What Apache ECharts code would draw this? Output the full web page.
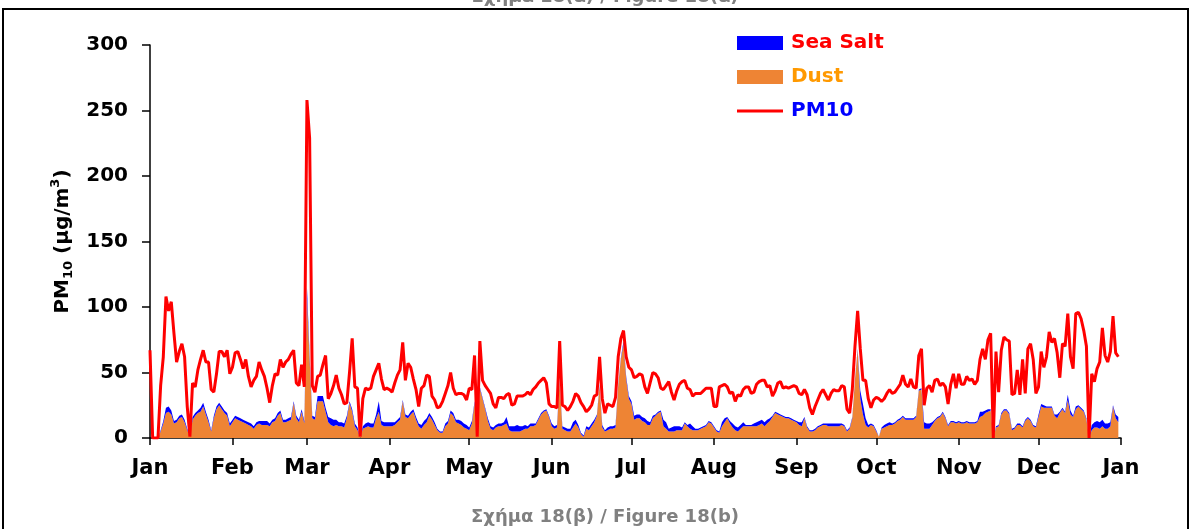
<!DOCTYPE html>
<html>
<head>
<meta charset="utf-8">
<title>PM10 - Sea Salt / Dust</title>
<script src="https://cdn.jsdelivr.net/npm/echarts@6.0.0/dist/echarts.min.js"></script>
<style>
  html, body { margin: 0; padding: 0; background: #fff; }
  #pmWrapper { width: 1190px; height: 529px; }
</style>
</head>
<body>
<div id="pmWrapper"></div>
<script>
var months = ['Jan', 'Feb', 'Mar', 'Apr', 'May', 'Jun', 'Jul', 'Aug', 'Sep', 'Oct', 'Nov', 'Dec'];
var monthDays = [31, 28, 31, 30, 31, 30, 31, 31, 30, 31, 30, 31];

// daily PM10 (one row per month)
var pm10 = [
  67, 0, 0, 0, 40, 62, 108, 97, 104, 80, 58, 66, 72, 62, 24, 1, 42, 39, 52, 60, 67, 58, 58, 37, 35, 49, 66, 66, 62, 67, 49,
  54, 65, 66, 60, 53, 60, 47, 39, 44, 47, 58, 52, 47, 38, 27, 40, 49, 48, 60, 54, 58, 60, 64, 67, 42, 40, 56, 39,
  258, 229, 40, 35, 47, 48, 56, 63, 30, 34, 40, 48, 38, 33, 26, 27, 50, 76, 39, 38, 1, 30, 38, 37, 38, 47, 52, 57, 45, 37, 38,
  37, 35, 42, 48, 52, 73, 44, 57, 54, 45, 37, 24, 38, 40, 48, 47, 32, 29, 23, 24, 28, 34, 40, 50, 38, 33, 34, 34, 33, 29,
  38, 37, 63, 1, 74, 44, 40, 37, 34, 26, 23, 31, 31, 30, 33, 34, 25, 26, 32, 32, 32, 33, 35, 33, 37, 39, 42, 44, 46, 42, 26,
  24, 24, 23, 74, 25, 24, 21, 24, 28, 34, 32, 27, 24, 20, 22, 25, 32, 33, 62, 30, 19, 26, 25, 24, 31, 62, 76, 82, 62, 54,
  52, 46, 47, 49, 48, 39, 34, 42, 50, 49, 46, 38, 37, 40, 43, 35, 29, 36, 41, 43, 44, 38, 37, 32, 34, 34, 34, 36, 38, 38, 38,
  24, 24, 39, 40, 41, 39, 34, 35, 28, 33, 32, 37, 39, 39, 34, 35, 41, 43, 44, 44, 39, 40, 32, 36, 42, 43, 38, 39, 38, 39, 40,
  39, 34, 33, 37, 33, 23, 18, 24, 29, 34, 37, 33, 29, 34, 37, 36, 36, 40, 39, 22, 19, 37, 70, 97, 68, 44, 44, 30, 23, 29,
  31, 30, 28, 30, 34, 37, 34, 35, 38, 41, 48, 41, 39, 45, 39, 38, 63, 68, 25, 38, 40, 35, 44, 45, 40, 42, 39, 26, 41, 49, 38,
  49, 41, 41, 47, 44, 45, 41, 44, 60, 68, 60, 75, 80, 0, 66, 35, 67, 77, 75, 74, 33, 34, 52, 33, 60, 34, 68, 72, 60, 34,
  39, 66, 54, 62, 81, 73, 76, 65, 46, 72, 70, 95, 62, 53, 95, 96, 91, 82, 70, 0, 49, 43, 53, 58, 84, 63, 58, 66, 93, 65, 62
];

// daily dust contribution
var dust = [
  0, 0, 0, 0, 5, 11, 19, 20, 18, 11, 12, 15, 16, 12, 6, 1, 14, 17, 19, 20, 24, 18, 12, 5, 15, 22, 25, 22, 19, 17, 9,
  12, 15, 14, 13, 12, 11, 10, 9, 7, 10, 11, 10, 10, 10, 9, 12, 13, 17, 19, 12, 12, 13, 14, 27, 15, 12, 20, 11,
  107, 60, 15, 14, 28, 28, 28, 20, 12, 10, 9, 10, 9, 9, 8, 15, 27, 20, 9, 6, 0, 7, 8, 9, 8, 8, 15, 20, 10, 9, 9,
  9, 9, 10, 12, 14, 28, 16, 15, 18, 20, 14, 9, 7, 10, 12, 17, 14, 10, 6, 4, 4, 9, 11, 19, 17, 12, 11, 10, 8, 7,
  6, 11, 27, 0, 38, 30, 22, 13, 7, 6, 8, 9, 9, 10, 11, 6, 5, 5, 5, 5, 6, 7, 7, 9, 9, 10, 14, 18, 20, 21, 16,
  9, 7, 8, 44, 7, 6, 5, 5, 8, 11, 8, 3, 1, 7, 6, 9, 12, 17, 40, 8, 5, 6, 7, 7, 8, 40, 60, 72, 45, 30,
  26, 14, 15, 15, 13, 12, 10, 10, 15, 17, 19, 20, 9, 7, 5, 5, 5, 6, 6, 6, 11, 9, 7, 6, 6, 6, 7, 8, 9, 12, 11,
  8, 5, 4, 9, 12, 15, 11, 8, 6, 5, 7, 9, 9, 9, 9, 9, 9, 10, 11, 9, 11, 13, 16, 19, 18, 17, 16, 15, 15, 14, 13,
  12, 10, 9, 15, 8, 5, 5, 6, 8, 9, 10, 10, 9, 9, 9, 9, 9, 10, 9, 5, 7, 15, 44, 67, 30, 18, 10, 8, 10, 9,
  5, 1, 7, 8, 9, 10, 10, 11, 13, 14, 16, 14, 14, 14, 14, 16, 36, 37, 7, 7, 7, 10, 13, 15, 16, 19, 15, 9, 12, 12, 11,
  12, 11, 11, 12, 11, 11, 11, 12, 16, 17, 19, 20, 21, 0, 8, 9, 18, 21, 21, 18, 6, 7, 10, 10, 8, 13, 15, 13, 9, 8,
  16, 24, 23, 23, 23, 23, 17, 15, 19, 22, 19, 29, 18, 16, 22, 24, 22, 20, 14, 0, 6, 8, 8, 7, 9, 7, 7, 9, 24, 15, 12
];

// daily sea salt contribution (stacked on dust)
var seaSalt = [
  0, 0, 0, 0, 1, 2, 4, 4, 3, 2, 2, 2, 2, 2, 1, 0, 2, 2, 2, 3, 3, 2, 2, 1, 2, 2, 2, 2, 2, 2, 2,
  2, 2, 2, 2, 2, 2, 2, 2, 2, 2, 2, 3, 3, 3, 2, 2, 2, 2, 2, 2, 2, 2, 2, 1, 2, 2, 2, 2,
  8, 3, 2, 2, 4, 4, 4, 3, 4, 5, 5, 4, 3, 3, 3, 2, 1, 2, 2, 2, 0, 2, 3, 3, 3, 3, 3, 8, 3, 3, 3,
  3, 3, 2, 2, 2, 1, 2, 2, 2, 2, 2, 2, 3, 3, 3, 2, 2, 2, 1, 1, 1, 2, 2, 2, 2, 2, 3, 3, 3, 3,
  2, 2, 1, 0, 1, 1, 1, 2, 2, 2, 2, 2, 2, 2, 5, 3, 4, 4, 5, 4, 3, 3, 2, 2, 2, 1, 1, 1, 1, 1, 1,
  2, 2, 2, 1, 2, 2, 2, 2, 4, 3, 2, 1, 1, 2, 2, 2, 2, 1, 1, 2, 1, 2, 2, 2, 2, 1, 1, 2, 2, 2,
  2, 3, 3, 3, 3, 3, 3, 2, 2, 1, 1, 1, 5, 5, 2, 3, 4, 3, 3, 2, 1, 1, 4, 3, 1, 1, 1, 1, 1, 1, 1,
  1, 1, 1, 3, 3, 1, 2, 3, 3, 3, 3, 3, 1, 1, 1, 2, 3, 3, 3, 3, 3, 2, 1, 1, 1, 1, 1, 1, 1, 1, 1,
  1, 2, 3, 1, 1, 1, 1, 1, 1, 1, 1, 1, 2, 2, 2, 2, 2, 1, 1, 1, 1, 1, 1, 1, 6, 8, 5, 2, 1, 1,
  1, 0, 1, 2, 2, 2, 1, 1, 1, 1, 1, 1, 1, 1, 1, 1, 1, 1, 5, 4, 4, 2, 1, 1, 1, 1, 1, 1, 1, 1, 1,
  1, 1, 1, 1, 1, 1, 1, 1, 4, 3, 2, 2, 1, 0, 1, 1, 1, 1, 1, 1, 1, 1, 1, 1, 1, 1, 1, 1, 1, 1,
  2, 2, 2, 1, 1, 1, 1, 3, 1, 1, 1, 4, 3, 1, 2, 1, 1, 1, 1, 0, 4, 4, 5, 5, 5, 4, 4, 3, 1, 3, 4
];

var FONT = '"DejaVu Sans", Arial, sans-serif';

// one category per day, plus the closing 1 Jan of the next year
var days = [];
var monthStart = {};
months.forEach(function (m, i) {
  monthStart[days.length] = true;
  for (var d = 1; d <= monthDays[i]; d++) {
    days.push(m + ' ' + d);
  }
});
monthStart[days.length] = true;
days.push('Jan 1 next');

function isMonthStart(index) {
  return monthStart[index] === true;
}

var myChart = echarts.init(document.getElementById('pmWrapper'));

var option = {
  animation: false,
  backgroundColor: '#fff',
  grid: { left: 150, right: 69, top: 45, bottom: 91 },
  legend: {
    orient: 'vertical',
    left: 737,
    top: 33,
    padding: 0,
    itemWidth: 46,
    itemHeight: 14,
    itemGap: 14,
    textStyle: { fontFamily: FONT, fontSize: 20, fontWeight: 'bold', padding: [0, 0, 0, 3] },
    data: [
      { name: 'Sea Salt', icon: 'rect', textStyle: { color: '#FF0000' } },
      { name: 'Dust', icon: 'rect', textStyle: { color: '#FF9900' } },
      { name: 'PM10', icon: 'path://M0,0M0,5.5L46,5.5L46,8.5L0,8.5ZM46,14', textStyle: { color: '#0000FF' } }
    ]
  },
  xAxis: {
    type: 'category',
    data: days,
    boundaryGap: false,
    axisLine: { lineStyle: { color: '#000', width: 1.5 } },
    axisTick: { interval: isMonthStart, length: 7, lineStyle: { color: '#000', width: 1.5 } },
    axisLabel: {
      interval: isMonthStart,
      formatter: function (v) { return v.slice(0, 3); },
      margin: 20,
      color: '#000',
      fontFamily: FONT,
      fontSize: 21,
      fontWeight: 'bold'
    },
    splitLine: { show: false }
  },
  yAxis: {
    type: 'value',
    min: 0,
    max: 300,
    interval: 50,
    name: '{a|PM}{s|10}{a| (μg/m}{p|3}{a|)}',
    nameLocation: 'middle',
    nameRotate: 90,
    nameGap: 60,
    nameTextStyle: {
      rich: {
        a: { fontFamily: FONT, fontSize: 20, fontWeight: 'bold', color: '#000', lineHeight: 26 },
        s: { fontFamily: FONT, fontSize: 13, fontWeight: 'bold', color: '#000', lineHeight: 16, verticalAlign: 'bottom' },
        p: { fontFamily: FONT, fontSize: 13, fontWeight: 'bold', color: '#000', lineHeight: 14, verticalAlign: 'top' }
      }
    },
    axisLine: { show: true, lineStyle: { color: '#000', width: 1.5 } },
    axisTick: { show: true, length: 8, lineStyle: { color: '#000', width: 1.5 } },
    axisLabel: { margin: 22, color: '#000', fontFamily: FONT, fontSize: 20, fontWeight: 'bold' },
    splitLine: { show: false }
  },
  graphic: [
    {
      type: 'rect',
      silent: true,
      shape: { x: 3, y: 9, width: 1185, height: 600 },
      style: { fill: 'none', stroke: '#000', lineWidth: 2 }
    },
    {
      type: 'text',
      silent: true,
      style: {
        x: 605, y: -3, text: 'Σχήμα 18(α) / Figure 18(α)',
        align: 'center', verticalAlign: 'middle',
        font: 'bold 18px ' + FONT, fill: '#808080'
      }
    },
    {
      type: 'text',
      silent: true,
      style: {
        x: 605, y: 517, text: 'Σχήμα 18(β) / Figure 18(b)',
        align: 'center', verticalAlign: 'middle',
        font: 'bold 18px ' + FONT, fill: '#808080'
      }
    }
  ],
  series: [
    {
      name: 'Dust',
      type: 'line',
      stack: 'pm',
      data: dust,
      color: '#EE8434',
      symbol: 'none',
      lineStyle: { width: 0 },
      areaStyle: { color: '#EE8434', opacity: 1 }
    },
    {
      name: 'Sea Salt',
      type: 'line',
      stack: 'pm',
      data: seaSalt,
      color: '#0000FF',
      symbol: 'none',
      lineStyle: { width: 0 },
      areaStyle: { color: '#0000FF', opacity: 1 }
    },
    {
      name: 'PM10',
      type: 'line',
      data: pm10,
      color: '#FF0000',
      symbol: 'none',
      z: 3,
      lineStyle: { width: 3, color: '#FF0000' }
    }
  ]
};

myChart.setOption(option);
</script>
</body>
</html>
